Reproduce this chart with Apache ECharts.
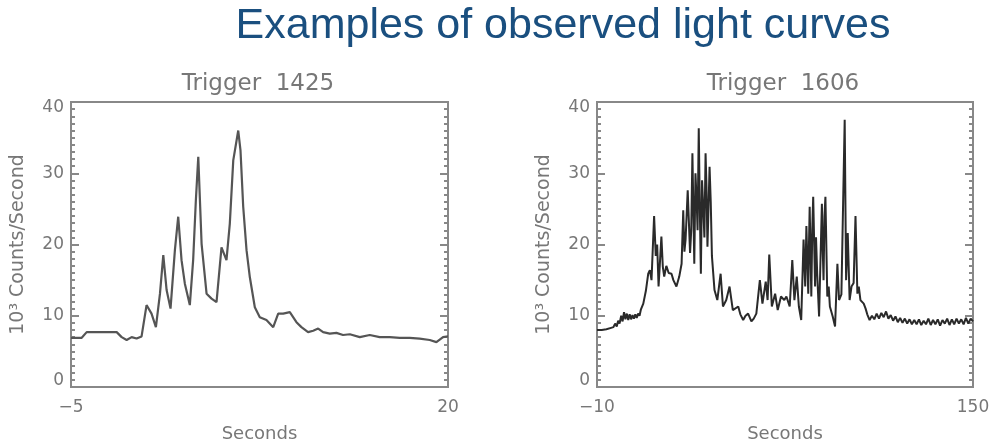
<!DOCTYPE html>
<html>
<head>
<meta charset="utf-8">
<script src="https://cdn.jsdelivr.net/npm/echarts@6/dist/echarts.min.js"></script>
<style>html,body{margin:0;padding:0;background:#fff;}#c{width:995px;height:442px;}</style>
</head>
<body>
<div id="c"></div>
<script>
// ---- data ----
const mainTitle = 'Examples of observed light curves';
const leftTitle = 'Trigger  1425';
const rightTitle = 'Trigger  1606';
const xName = 'Seconds';
const yName = '10³ Counts/Second';
const leftXTicks = [-5, 20];
const rightXTicks = [-10, 150];
const yTicks = [0, 10, 20, 30, 40];

const t1425 = [-5, -4.29, -3.96, -1.97, -1.64, -1.31, -0.98, -0.65, -0.32, 0.01, 0.34, 0.63, 0.9, 1.12, 1.34, 1.6, 1.89, 2.11, 2.33, 2.55, 2.88, 3.1, 3.28, 3.44, 3.66, 3.99, 4.32, 4.65, 4.98, 5.31, 5.53, 5.76, 6.09, 6.24, 6.42, 6.64, 6.86, 7.19, 7.52, 7.96, 8.41, 8.74, 9.07, 9.51, 9.95, 10.28, 10.72, 11.06, 11.39, 11.72, 12.16, 12.6, 13.04, 13.49, 14.15, 14.81, 15.47, 16.14, 16.8, 17.46, 18.12, 18.79, 19.23, 19.67, 20.0];
const c1425 = [6.9, 6.9, 7.7, 7.7, 7.0, 6.6, 7.0, 6.8, 7.1, 11.5, 10.3, 8.4, 13.1, 18.5, 13.6, 11.0, 19.2, 23.9, 17.8, 14.5, 11.5, 17.8, 26.2, 32.3, 20.1, 13.1, 12.4, 11.9, 19.6, 17.8, 22.9, 31.8, 36.0, 33.2, 25.3, 19.2, 15.4, 11.2, 9.8, 9.4, 8.4, 10.3, 10.3, 10.5, 9.1, 8.4, 7.7, 7.9, 8.2, 7.7, 7.5, 7.6, 7.3, 7.4, 7.0, 7.3, 7.0, 7.0, 6.9, 6.9, 6.8, 6.6, 6.3, 7.0, 7.1];

const t1606 = [-10, -8, -6, -4, -3, -2.3, -1.6, -1, -0.4, 0.3, 0.9, 1.5, 2.1, 2.7, 3.3, 3.9, 4.5, 5.1, 5.7, 6.3, 6.9, 7.5, 8.1, 8.7, 9.7, 10.8, 11.8, 12.5, 13.2, 14.3, 15.0, 15.6, 16.2, 16.7, 17.4, 18.0, 18.6, 19.5, 20.5, 21.7, 22.5, 23.8, 25.0, 26.0, 26.7, 27.2, 27.7, 28.6, 29.6, 30.1, 30.6, 31.4, 31.9, 32.4, 32.8, 33.3, 33.8, 34.2, 34.7, 35.2, 35.7, 36.2, 36.6, 37.0, 37.4, 37.9, 38.4, 38.9, 40.0, 41.2, 42.6, 43.6, 45.0, 46.4, 47.8, 50.1, 51.0, 52.2, 53.2, 54.3, 55.7, 56.7, 57.8, 59.3, 60.4, 61.8, 62.6, 63.3, 64.4, 65.8, 66.9, 68.3, 69.7, 70.6, 72.0, 73.1, 74.0, 75.0, 75.9, 76.9, 77.9, 78.6, 79.1, 79.9, 80.2, 80.5, 81.2, 81.6, 82.0, 82.8, 83.2, 83.7, 84.5, 85.7, 86.0, 86.4, 86.8, 87.2, 88.0, 88.6, 89.1, 90.3, 91.3, 92.3, 93.0, 94.0, 95.4, 96.0, 96.7, 97.5, 98.3, 99.2, 100.0, 100.8, 101.4, 102.1, 103.5, 104.3, 105, 106, 107, 108, 109, 110, 111, 112, 113, 114, 115, 116, 117, 118, 119, 120, 121, 122, 123, 124, 125, 126, 127, 128, 129, 130, 131, 132, 133, 134, 135, 136, 137, 138, 139, 140, 141, 142, 143, 144, 145, 146, 147, 148, 149, 150];
const c1606 = [8.0, 8.0, 8.1, 8.3, 8.4, 8.9, 8.5, 9.3, 8.9, 10.0, 9.2, 10.5, 9.5, 10.3, 9.4, 10.2, 9.5, 10.1, 9.6, 10.2, 9.7, 10.3, 10.0, 10.9, 11.7, 13.5, 15.9, 16.4, 15.0, 24.0, 18.4, 20.0, 14.1, 17.0, 21.1, 16.9, 15.5, 17.0, 16.0, 15.9, 15.0, 14.1, 15.5, 17.3, 24.8, 19.0, 20.7, 27.6, 18.8, 22.0, 32.8, 17.3, 30.0, 26.2, 22.0, 36.3, 24.0, 15.9, 29.0, 25.3, 21.0, 32.8, 28.0, 19.7, 24.5, 30.9, 26.0, 18.4, 13.6, 12.2, 15.9, 11.3, 12.2, 14.1, 10.8, 11.3, 10.2, 9.4, 10.0, 10.3, 9.2, 9.6, 10.3, 15.0, 11.7, 14.8, 12.2, 18.6, 11.3, 13.1, 10.8, 12.7, 12.2, 12.7, 11.3, 17.8, 12.2, 15.5, 11.3, 9.4, 20.7, 14.1, 22.6, 13.1, 20.0, 25.3, 12.7, 22.0, 26.7, 14.1, 21.0, 15.9, 9.9, 25.7, 20.0, 15.0, 24.0, 26.7, 12.7, 14.1, 11.3, 9.9, 8.5, 17.3, 12.2, 13.0, 37.5, 15.0, 21.6, 12.2, 14.1, 14.6, 24.0, 13.1, 14.1, 12.2, 11.7, 11.0, 10.2, 9.4, 10.0, 9.5, 10.3, 9.6, 10.4, 9.8, 10.6, 9.6, 10.1, 9.3, 9.9, 9.1, 9.7, 9.0, 9.6, 8.9, 9.5, 8.8, 9.4, 8.8, 9.5, 8.7, 9.3, 8.8, 9.6, 8.7, 9.4, 8.8, 9.5, 8.6, 9.4, 8.9, 9.6, 8.7, 9.5, 8.8, 9.6, 8.9, 9.5, 8.8, 9.7, 8.9, 9.6, 9.2];

// ---- chart ----
const FONT = 'DejaVu Sans';
const AX = '#888';
const TXT = '#777';
const pair = (t, c) => t.map((x, i) => [x, c[i]]);

function xAxisFor(idx, min, max, interval, ticks) {
  return {
    type: 'value', gridIndex: idx, min: min, max: max, interval: interval,
    axisLine: { show: true, onZero: false, lineStyle: { color: AX, width: 2 } },
    axisTick: { show: false }, splitLine: { show: false },
    axisLabel: {
      color: TXT, fontFamily: FONT, fontSize: 17, margin: 12,
      formatter: v => ticks.indexOf(v) >= 0 ? String(v).replace('-', '\u2212') : ''
    },
    name: xName, nameLocation: 'middle', nameGap: 38,
    nameTextStyle: { color: TXT, fontFamily: FONT, fontSize: 18 }
  };
}
function yAxisFor(idx, pos, showLabel) {
  return {
    type: 'value', gridIndex: idx, position: pos, min: yTicks[0], max: yTicks[yTicks.length - 1], interval: 10,
    axisLine: { show: true, onZero: false, lineStyle: { color: AX, width: 2 } },
    axisTick: { show: true, inside: true, length: 8, lineStyle: { color: AX, width: 2 } },
    minorTick: { show: true, splitNumber: 10, length: 4, lineStyle: { color: AX, width: 2 } },
    splitLine: { show: false },
    axisLabel: {
      show: showLabel, color: TXT, fontFamily: FONT, fontSize: 17, margin: 7, lineHeight: 12,
      verticalAlignMinLabel: 'bottom', verticalAlignMaxLabel: 'top'
    },
    name: showLabel ? yName : '', nameLocation: 'middle', nameGap: 43, nameRotate: 90,
    nameTextStyle: { color: TXT, fontFamily: FONT, fontSize: 19 }
  };
}

const chart = echarts.init(document.getElementById('c'), null, { renderer: 'canvas' });
chart.setOption({
  animation: false,
  backgroundColor: '#fff',
  title: [
    { text: mainTitle, left: 563, top: 5, textAlign: 'center', padding: 0,
      textStyle: { color: '#1a4f7f', fontFamily: 'Liberation Sans', fontSize: 43, fontWeight: 'normal' } },
    { text: leftTitle, left: 258, top: 73, textAlign: 'center', padding: 0,
      textStyle: { color: TXT, fontFamily: FONT, fontSize: 23, fontWeight: 'normal' } },
    { text: rightTitle, left: 783, top: 73, textAlign: 'center', padding: 0,
      textStyle: { color: TXT, fontFamily: FONT, fontSize: 23, fontWeight: 'normal' } }
  ],
  grid: [
    { left: 71, right: 547, top: 102, bottom: 55, show: true, borderColor: AX, borderWidth: 2,
      containLabel: false, outerBoundsMode: 'none' },
    { left: 597, right: 22, top: 102, bottom: 55, show: true, borderColor: AX, borderWidth: 2,
      containLabel: false, outerBoundsMode: 'none' }
  ],
  xAxis: [
    xAxisFor(0, leftXTicks[0], leftXTicks[1], 5, leftXTicks),
    xAxisFor(1, rightXTicks[0], rightXTicks[1], 10, rightXTicks)
  ],
  yAxis: [
    yAxisFor(0, 'left', true), yAxisFor(0, 'right', false),
    yAxisFor(1, 'left', true), yAxisFor(1, 'right', false)
  ],
  series: [
    { type: 'line', xAxisIndex: 0, yAxisIndex: 0, data: pair(t1425, c1425), showSymbol: false,
      lineStyle: { color: '#555', width: 2.2 } },
    { type: 'line', xAxisIndex: 1, yAxisIndex: 2, data: pair(t1606, c1606), showSymbol: false,
      lineStyle: { color: '#2a2a2a', width: 2 } }
  ]
});
</script>
</body>
</html>
